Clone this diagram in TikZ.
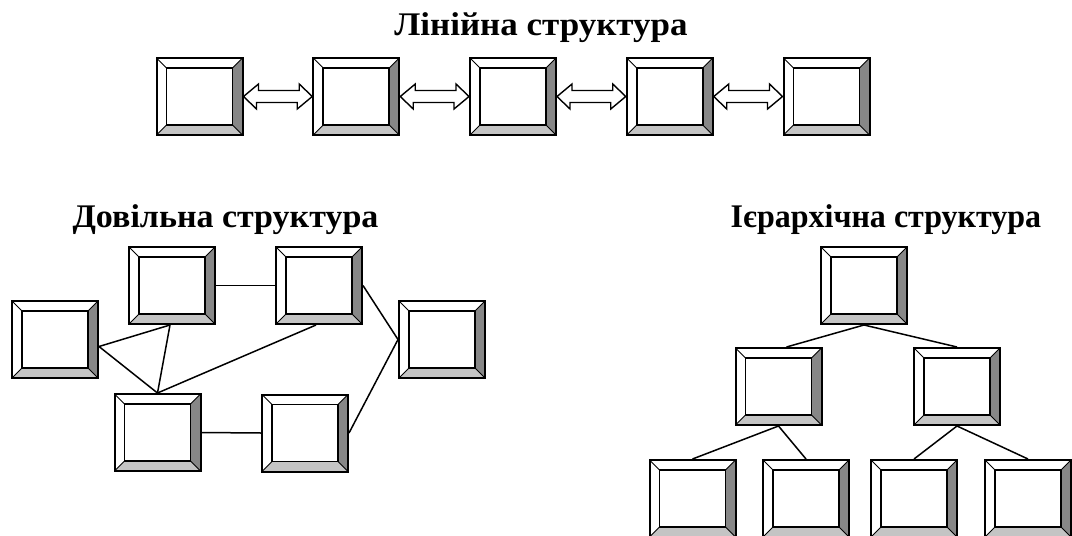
\documentclass[tikz,border=0pt]{standalone}
\usepackage{fontspec}
\setmainfont{Liberation Serif}
\usetikzlibrary{calc}
\definecolor{bevdark}{HTML}{878787}
\definecolor{bevlight}{HTML}{C4C4C4}
\tikzset{
  bevbox/.style={rectangle, draw, line width=2pt, minimum width=86pt, minimum height=77pt,
    inner sep=0pt, fill=white,
    path picture={
      \coordinate (ppNE) at (path picture bounding box.north east);
      \coordinate (ppSE) at (path picture bounding box.south east);
      \coordinate (ppSW) at (path picture bounding box.south west);
      \coordinate (ppNW) at (path picture bounding box.north west);
      \fill[bevdark] (ppNE) -- (ppSE) -- ($(ppSE)+(-10pt,10pt)$) -- ($(ppNE)+(-10pt,-10pt)$) -- cycle;
      \fill[bevlight] (ppSW) -- (ppSE) -- ($(ppSE)+(-10pt,10pt)$) -- ($(ppSW)+(10pt,10pt)$) -- cycle;
      \draw[line width=1.6pt] ($(ppSW)+(10pt,10pt)$) rectangle ($(ppNE)+(-10pt,-10pt)$);
      \draw[line width=1pt] (ppSW) -- ($(ppSW)+(10pt,10pt)$)
                            (ppSE) -- ($(ppSE)+(-10pt,10pt)$)
                            (ppNE) -- ($(ppNE)+(-10pt,-10pt)$)
                            (ppNW) -- ($(ppNW)+(10pt,-10pt)$);
    }},
  dblarr/.style={draw, fill=white, line width=1.4pt, line join=miter},
  link/.style={draw, line width=1.5pt},
  title/.style={font=\fontsize{33}{40}\selectfont\bfseries, anchor=base, inner sep=0pt, transform shape},
}
\newcommand{\dblarrow}[2]{%
  \path[dblarr] (#1.east) -- ++(15,-12.5) -- ++(0,6.5) -- ++(40.75,0) -- ++(0,-6.5)
    -- (#2.west) -- ++(-15,12.5) -- ++(0,-6.5) -- ++(-40.75,0) -- ++(0,6.5) -- cycle;}
\begin{document}
\begin{tikzpicture}[x=1pt, y=-1pt]
\useasboundingbox (0,0) rectangle (1072,536);
% Linear structure
\node[title, xscale=1.06] (t1) at (541,35) {Лінійна структура};
\foreach \i/\x in {1/199.5, 2/356.25, 3/513, 4/669.75, 5/826.5}
  \node[bevbox] (b\i) at (\x,96.5) {};
\dblarrow{b1}{b2}
\dblarrow{b2}{b3}
\dblarrow{b3}{b4}
\dblarrow{b4}{b5}
% Arbitrary structure
\node[title, xscale=1.03] (t2) at (225.5,227) {Довільна структура};
\node[bevbox] (A) at (55,339.5) {};
\node[bevbox] (B) at (172,285.5) {};
\node[bevbox] (C) at (157.5,432.5) {};
\node[bevbox] (D) at (319,285.5) {};
\node[bevbox] (E) at (442,339.5) {};
\node[bevbox] (F) at (305,433) {};
\coordinate (a1) at ([yshift=-7pt]A.east);
\coordinate (b1s) at ([xshift=-2pt]B.south);
\coordinate (d1s) at ([xshift=-3pt]D.south);
\draw[link] (B.east) -- (D.west);
\draw[link] (a1) -- (b1s);
\draw[link] (a1) -- (C.north);
\draw[link] (b1s) -- (C.north);
\draw[link] (C.north) -- (d1s);
\draw[link] (D.east) -- (E.west);
\draw[link] (F.east) -- (E.west);
\draw[link] (C.east) -- (F.west);
% Hierarchical structure
\node[title, xscale=0.97] (t3) at (886,227) {Ієрархічна структура};
\node[bevbox] (R) at (864,285.5) {};
\node[bevbox] (L) at (778.5,386.5) {};
\node[bevbox] (M) at (957,386.5) {};
\node[bevbox] (L1) at (692.5,498.5) {};
\node[bevbox] (L2) at (806,498.5) {};
\node[bevbox] (L3) at (914,498.5) {};
\node[bevbox] (L4) at (1028,498.5) {};
\draw[link] (R.south) -- ([xshift=8pt]L.north);
\draw[link] (R.south) -- (M.north);
\draw[link] (L.south) -- (L1.north);
\draw[link] (L.south) -- (L2.north);
\draw[link] (M.south) -- (L3.north);
\draw[link] (M.south) -- (L4.north);
\end{tikzpicture}
\end{document}
